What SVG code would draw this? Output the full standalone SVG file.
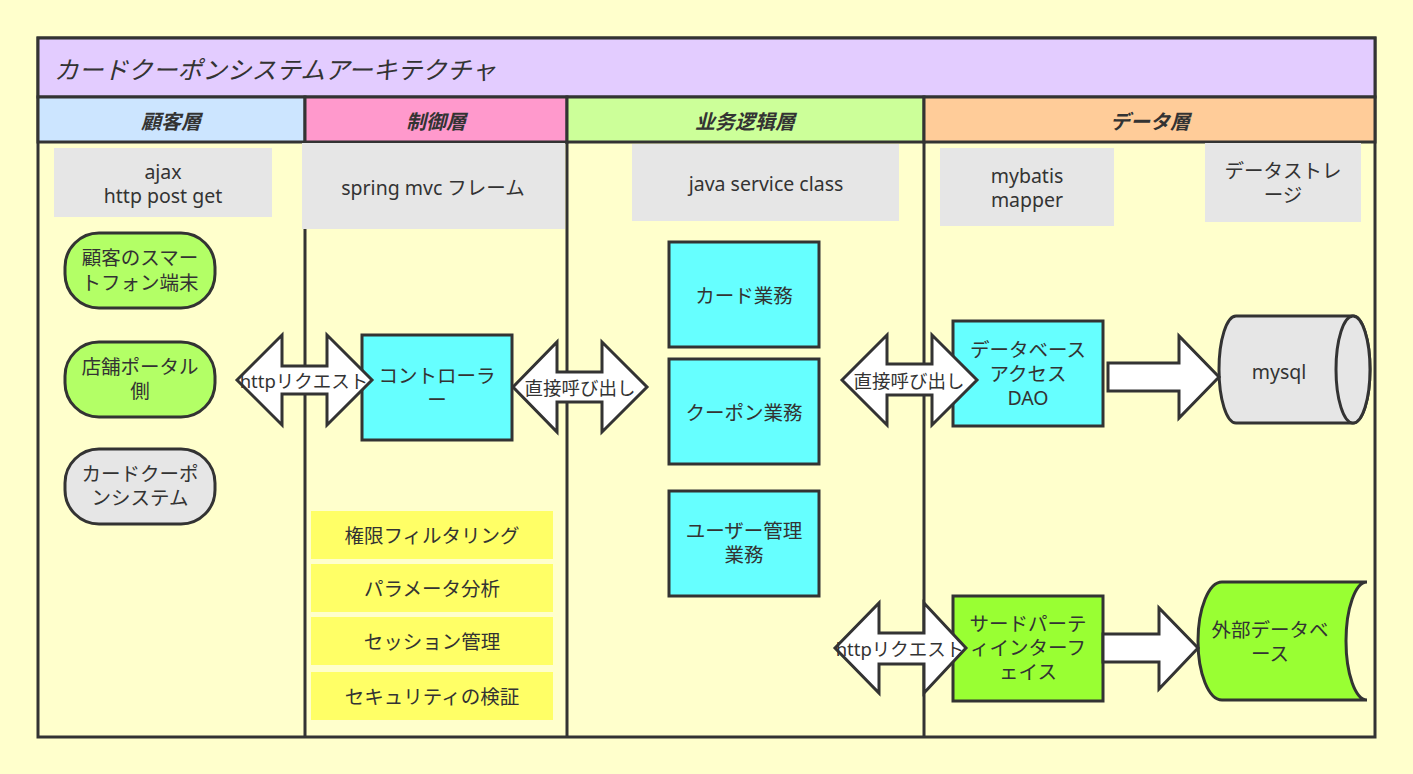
<svg xmlns="http://www.w3.org/2000/svg" width="1413" height="774" viewBox="0 0 1413 774">
<style>
.t{font-family:"Noto Sans","Noto Sans CJK JP",sans-serif;font-size:19.5px;fill:#333;text-anchor:middle;dominant-baseline:central}
.h{font-family:"Noto Sans CJK JP","Noto Sans",sans-serif;font-size:20px;font-weight:bold;font-style:italic;fill:#333;text-anchor:middle;dominant-baseline:central}
.s{stroke:#333;stroke-width:3}
.gray{fill:#E6E6E6}
.cyan{fill:#66FFFF;stroke:#333;stroke-width:3}
.yel{fill:#FFFF66}
.arr{fill:#fff;stroke:#333;stroke-width:3;stroke-linejoin:miter}
.al{font-family:"Noto Sans","Noto Sans CJK JP",sans-serif;font-size:18.5px;fill:#333;text-anchor:middle;dominant-baseline:central}
</style>
<rect width="1413" height="774" fill="#FFFFCC"/>
<g id="frame">
<rect x="38" y="38" width="1337" height="699" fill="#FFFFCC" class="s"/>
<rect x="38" y="38" width="1337" height="59" fill="#E3CCFF" class="s"/>
<text x="54" y="68" font-family="Noto Sans CJK JP, sans-serif" font-size="24.7" font-style="italic" fill="#333" dominant-baseline="central">カードクーポンシステムアーキテクチャ</text>
</g>
<g id="lane-customer">
<rect x="38" y="97" width="267" height="45" fill="#CCE5FF" class="s"/>
<text x="171" y="120" class="h">顧客層</text>
</g>
<g id="lane-control">
<rect x="305" y="97" width="262" height="45" fill="#FF99CC" class="s"/>
<text x="436" y="120" class="h">制御層</text>
</g>
<g id="lane-business">
<rect x="567" y="97" width="357" height="45" fill="#CCFF99" class="s"/>
<text x="745" y="120" class="h">业务逻辑層</text>
</g>
<g id="lane-data">
<rect x="924" y="97" width="451" height="45" fill="#FFCC99" class="s"/>
<text x="1150" y="120" class="h">データ層</text>
</g>
<g id="dividers" class="s">
<line x1="305" y1="142" x2="305" y2="737"/>
<line x1="567" y1="142" x2="567" y2="737"/>
<line x1="924" y1="142" x2="924" y2="737"/>
</g>
<g id="ajax"><rect x="54" y="148" width="218" height="69" class="gray"/><text x="163" y="171" class="t">ajax</text><text x="163" y="195" class="t">http post get</text></g>
<g id="springmvc"><rect x="302" y="143" width="263" height="86" class="gray"/><text x="433" y="187" class="t">spring mvc フレーム</text></g>
<g id="javaservice"><rect x="632" y="144" width="267" height="77" class="gray"/><text x="766" y="183" class="t">java service class</text></g>
<g id="mybatis"><rect x="940" y="148" width="174" height="78" class="gray"/><text x="1027" y="175" class="t">mybatis</text><text x="1027" y="199" class="t">mapper</text></g>
<g id="storage"><rect x="1205" y="143" width="156" height="79" class="gray"/><text x="1283" y="170" class="t">データストレ</text><text x="1283" y="194" class="t">ージ</text></g>

<g id="smartphone"><rect x="65" y="233" width="150" height="75" rx="34" fill="#B3FF66" class="s"/><text x="140" y="257" class="t">顧客のスマー</text><text x="140" y="282" class="t">トフォン端末</text></g>
<g id="portal"><rect x="65" y="342" width="150" height="75" rx="34" fill="#B3FF66" class="s"/><text x="140" y="366" class="t">店舗ポータル</text><text x="140" y="390" class="t">側</text></g>
<g id="cardsys"><rect x="65" y="449" width="150" height="75" rx="34" fill="#E6E6E6" class="s"/><text x="140" y="473" class="t">カードクーポ</text><text x="140" y="497" class="t">ンシステム</text></g>

<g id="controller"><rect x="362" y="335" width="150" height="105" class="cyan"/><text x="437" y="375" class="t">コントローラ</text><text x="437" y="399" class="t">ー</text></g>

<g id="filter"><rect x="311" y="511" width="242" height="48" class="yel"/><text x="432" y="535" class="t">権限フィルタリング</text></g>
<g id="param"><rect x="311" y="564" width="242" height="48" class="yel"/><text x="432" y="588" class="t">パラメータ分析</text></g>
<g id="session"><rect x="311" y="617" width="242" height="48" class="yel"/><text x="432" y="641" class="t">セッション管理</text></g>
<g id="security"><rect x="311" y="672" width="242" height="48" class="yel"/><text x="432" y="696" class="t">セキュリティの検証</text></g>

<g id="card"><rect x="669" y="242" width="150" height="105" class="cyan"/><text x="744" y="295" class="t">カード業務</text></g>
<g id="coupon"><rect x="669" y="359" width="150" height="105" class="cyan"/><text x="744" y="412" class="t">クーポン業務</text></g>
<g id="user"><rect x="669" y="491" width="150" height="105" class="cyan"/><text x="744" y="530" class="t">ユーザー管理</text><text x="744" y="554" class="t">業務</text></g>

<g id="dao"><rect x="953" y="321" width="150" height="105" class="cyan"/><text x="1028" y="349" class="t">データベース</text><text x="1028" y="373" class="t">アクセス</text><text x="1028" y="397" class="t">DAO</text></g>
<g id="mysql">
<path d="M1236,316 L1353,316 A17,53.5 0 0 1 1353,423 L1236,423 A17,53.5 0 0 1 1236,316 Z" fill="#E6E6E6" class="s"/>
<ellipse cx="1353" cy="369.5" rx="17" ry="53.5" fill="#E6E6E6" class="s"/>
<text x="1279" y="371" class="t">mysql</text>
</g>
<g id="thirdparty"><rect x="953" y="596" width="150" height="105" fill="#99FF33" class="s"/><text x="1028" y="623" class="t">サードパーテ</text><text x="1028" y="647" class="t">ィインターフ</text><text x="1028" y="671" class="t">ェイス</text></g>
<g id="externaldb">
<path d="M1222,582 L1367,582 A21,59 0 0 0 1367,700 L1222,700 A24,59 0 0 1 1222,582 Z" fill="#99FF33" class="s"/>
<text x="1270" y="629" class="t">外部データベ</text><text x="1270" y="653" class="t">ース</text>
</g>

<g id="connectors">
<path class="arr" d="M237,380 L282,335 L282,366 L327,366 L327,335 L372,380 L327,425 L327,394 L282,394 L282,425 Z"/>
<text x="304" y="380" class="al">httpリクエスト</text>
<path class="arr" d="M513,387 L557,342 L557,372 L602,372 L602,342 L647,387 L602,432 L602,402 L557,402 L557,432 Z"/>
<text x="580" y="387" class="al">直接呼び出し</text>
<path class="arr" d="M842,380 L887,335 L887,364 L932,364 L932,335 L977,380 L932,425 L932,395 L887,395 L887,425 Z"/>
<text x="909" y="380" class="al">直接呼び出し</text>
<path class="arr" d="M835,648 L879,603 L879,633 L924,633 L924,603 L966,648 L924,693 L924,664 L879,664 L879,693 Z"/>
<text x="900" y="648" class="al">httpリクエスト</text>
<path class="arr" d="M1108,363 L1179,363 L1179,336 L1219,377 L1179,418 L1179,391 L1108,391 Z"/>
<path class="arr" d="M1103,634 L1159,634 L1159,608 L1198,648 L1159,689 L1159,662 L1103,662 Z"/>
</g>
</svg>
